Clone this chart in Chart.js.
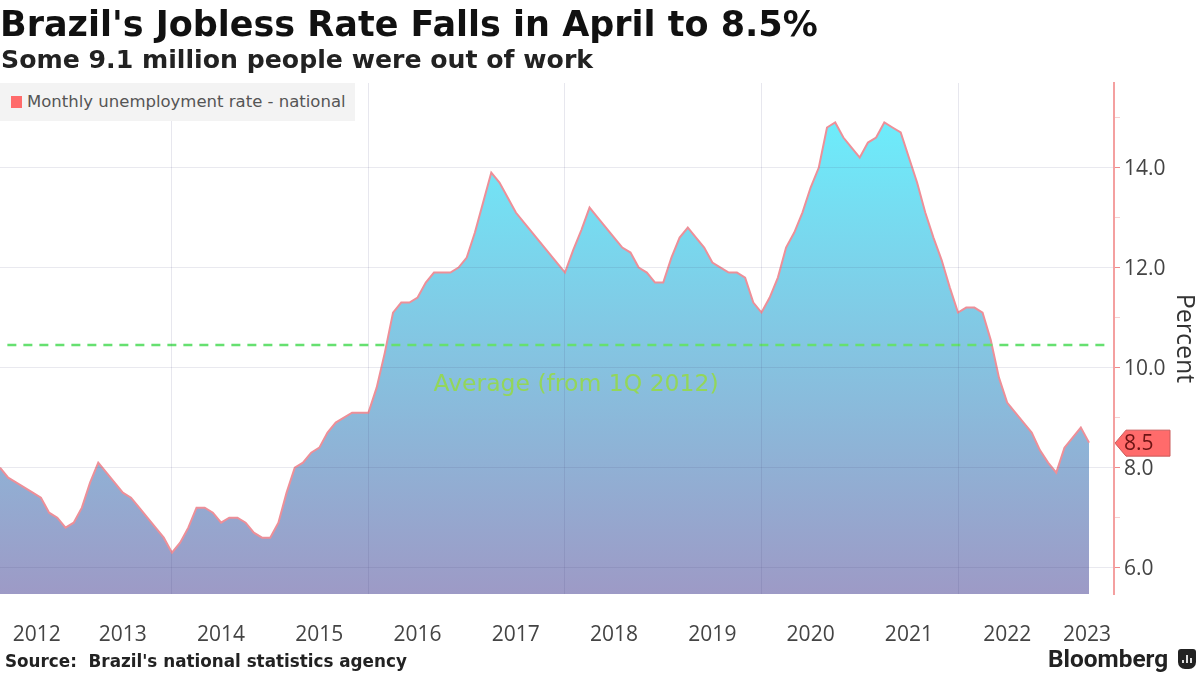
<!DOCTYPE html>
<html>
<head>
<meta charset="utf-8">
<script src="https://cdn.jsdelivr.net/npm/chart.js@4"></script>
<style>
  html, body { margin: 0; padding: 0; background: #fff; }
  #wrap { position: relative; width: 1200px; height: 674px; overflow: hidden; }
  #wrap div { position: absolute; white-space: nowrap; }
  canvas { position: absolute; left: 0; top: 0; }
  #title { left: 0; top: 4px; font: bold 35px "DejaVu Sans"; color: #111; }
  #subtitle { left: 1px; top: 45px; font: bold 25.2px "DejaVu Sans"; color: #222; }
  #legendBox { left: 0; top: 83px; width: 355px; height: 38px; background: #f3f3f3; }
  #legendSwatch { left: 11px; top: 96px; width: 11px; height: 12px; background: #ff6b6b; }
  #legendText { left: 27px; top: 92px; font: 16.5px "DejaVu Sans"; color: #555; }
  #source { left: 5px; top: 651px; font: bold 16.8px "DejaVu Sans"; color: #222; }
  #brand { left: 1048px; top: 644px; font: bold 24.4px Roboto; color: #222; }
  #logo { left: 1178px; top: 649px; width: 18px; height: 20px; background: #222; border-radius: 3px 3px 7px 7px; }
  #logo div { background: #ddd; width: 2px; bottom: 6px; }
</style>
</head>
<body>
<div id="wrap">
  <canvas id="joblessChart" width="1200" height="674"></canvas>
  <div id="title">Brazil's Jobless Rate Falls in April to 8.5%</div>
  <div id="subtitle">Some 9.1 million people were out of work</div>
  <div id="legendBox"></div>
  <div id="legendSwatch"></div>
  <div id="legendText">Monthly unemployment rate - national</div>
  <div id="source">Source:&nbsp; Brazil's national statistics agency</div>
  <div id="brand">Bloomberg</div>
  <div id="logo">
    <div style="left:4px;height:3px"></div>
    <div style="left:8px;height:8px"></div>
    <div style="left:12px;height:5px"></div>
  </div>
</div>
<script>
// monthly rate, Mar 2012 to Apr 2023
const monthlyRate = [
  8.0, 7.8, 7.7, 7.6, 7.5, 7.4, 7.1, 7.0, 6.8, 6.9,
  7.2, 7.7, 8.1, 7.9, 7.7, 7.5, 7.4, 7.2, 7.0, 6.8,
  6.6, 6.3, 6.5, 6.8, 7.2, 7.2, 7.1, 6.9, 7.0, 7.0,
  6.9, 6.7, 6.6, 6.6, 6.9, 7.5, 8.0, 8.1, 8.3, 8.4,
  8.7, 8.9, 9.0, 9.1, 9.1, 9.1, 9.6, 10.3, 11.1, 11.3,
  11.3, 11.4, 11.7, 11.9, 11.9, 11.9, 12.0, 12.2, 12.7, 13.3,
  13.9, 13.7, 13.4, 13.1, 12.9, 12.7, 12.5, 12.3, 12.1, 11.9,
  12.35, 12.75, 13.2, 13.0, 12.8, 12.6, 12.4, 12.3, 12.0, 11.9,
  11.7, 11.7, 12.2, 12.6, 12.8, 12.6, 12.4, 12.1, 12.0, 11.9,
  11.9, 11.8, 11.3, 11.1, 11.4, 11.8, 12.4, 12.7, 13.1, 13.6,
  14.0, 14.8, 14.9, 14.6, 14.4, 14.2, 14.5, 14.6, 14.9, 14.8,
  14.7, 14.2, 13.7, 13.1, 12.6, 12.15, 11.6, 11.1, 11.2, 11.2,
  11.1, 10.55, 9.8, 9.3, 9.1, 8.9, 8.7, 8.35, 8.1, 7.9,
  8.4, 8.6, 8.8, 8.5
];
const averageRate = 10.45;
const averageSpan = [0.9, 135.3];
const averageLabel = 'Average (from 1Q 2012)';
const lastLabel = '8.5';

const yearLabels = ['2012', '2013', '2014', '2015', '2016', '2017', '2018', '2019', '2020', '2021', '2022', '2023'];
const yearLabelSlots = [4.5, 15, 27, 39, 51, 63, 75, 87, 99, 111, 123, 132.75];
const yearGridSlots = [21, 45, 69, 93, 117];
const rateTicks = [6, 7, 8, 9, 10, 11, 12, 13, 14, 15];

const X_MAX = 136.05;

// small tag and the green caption, placed through the chart's scales
const markers = {
  id: 'markers',
  afterDatasetsDraw(chart) {
    const ctx = chart.ctx, y = chart.scales.y, x = chart.scales.x;
    ctx.save();
    ctx.fillStyle = '#93d65a';
    ctx.font = '23.5px "DejaVu Sans"';
    ctx.textAlign = 'center';
    ctx.textBaseline = 'middle';
    ctx.fillText(averageLabel, x.getPixelForValue(70.35), y.getPixelForValue(9.65));

    const last = monthlyRate[monthlyRate.length - 1];
    const py = y.getPixelForValue(last) + 0.5;
    const left = chart.chartArea.right;
    ctx.beginPath();
    ctx.moveTo(left + 1, py);
    ctx.lineTo(left + 12, py - 13);
    ctx.lineTo(left + 56, py - 13);
    ctx.lineTo(left + 56, py + 13);
    ctx.lineTo(left + 12, py + 13);
    ctx.closePath();
    ctx.fillStyle = '#ff6b6b';
    ctx.strokeStyle = '#c95a5a';
    ctx.lineWidth = 1;
    ctx.fill();
    ctx.stroke();
    ctx.fillStyle = '#6d1414';
    ctx.font = '21px "Open Sans"';
    ctx.textAlign = 'left';
    ctx.fillText(lastLabel, left + 10, py + 1);
    ctx.restore();
  }
};

new Chart(document.getElementById('joblessChart'), {
  type: 'line',
  plugins: [markers],
  data: {
    datasets: [{
      label: 'Average',
      data: averageSpan.map(v => ({ x: v, y: averageRate })),
      borderColor: '#66e070',
      borderWidth: 2.5,
      borderDash: [9, 7],
      pointRadius: 0,
      fill: false,
      order: 0
    }, {
      label: 'Monthly unemployment rate - national',
      data: monthlyRate.map((v, i) => ({ x: i, y: v })),
      borderColor: '#ee8f98',
      borderWidth: 2,
      pointRadius: 0,
      tension: 0,
      fill: 'start',
      order: 1,
      backgroundColor(context) {
        const area = context.chart.chartArea;
        if (!area) return '#8cc4e0';
        const g = context.chart.ctx.createLinearGradient(0, 122, 0, area.bottom);
        g.addColorStop(0, '#6decfb');
        g.addColorStop(1, '#9d9ac6');
        return g;
      }
    }]
  },
  options: {
    responsive: false,
    animation: false,
    events: [],
    layout: { padding: { top: 83, left: 0, right: 0, bottom: 0 } },
    plugins: { legend: { display: false }, title: { display: false }, tooltip: { enabled: false } },
    scales: {
      x: {
        type: 'linear',
        min: 0,
        max: X_MAX,
        border: { display: false },
        grid: { display: false },
        afterBuildTicks(axis) { axis.ticks = yearLabelSlots.map(v => ({ value: v })); },
        afterFit(axis) {
          axis.height = 80;
          axis.paddingLeft = 0;
          axis.paddingRight = 0;
        },
        ticks: {
          autoSkip: false,
          maxRotation: 0,
          padding: 20,
          color: '#444',
          font: { family: 'Open Sans', size: 21 },
          callback(value) { return yearLabels[yearLabelSlots.indexOf(value)]; }
        }
      },
      yearGrid: {
        type: 'linear',
        position: 'bottom',
        min: 0,
        max: X_MAX,
        border: { display: false },
        grid: { color: 'rgba(70,70,120,0.13)', lineWidth: 1, drawTicks: false, z: 1 },
        afterBuildTicks(axis) { axis.ticks = yearGridSlots.map(v => ({ value: v })); },
        afterFit(axis) {
          axis.height = 0;
          axis.paddingLeft = 0;
          axis.paddingRight = 0;
        },
        ticks: { display: false }
      },
      y: {
        position: 'right',
        min: 5.474,
        max: 15.69,
        border: { display: true, color: '#f4a0a0', width: 2, z: 1 },
        grid: {
          z: 1,
          drawTicks: true,
          tickLength: 6,
          color(c) { return c.tick && c.tick.value % 2 === 0 ? 'rgba(70,70,120,0.12)' : 'transparent'; },
          tickColor(c) { return c.tick && c.tick.value % 2 === 0 ? '#f08a8a' : '#f8d0d0'; }
        },
        afterBuildTicks(axis) { axis.ticks = rateTicks.map(v => ({ value: v })); },
        afterFit(axis) { axis.width = 86; },
        title: {
          display: true,
          text: 'Percent',
          color: '#333',
          padding: 1,
          font: { family: 'Open Sans', size: 25 }
        },
        ticks: {
          padding: 4,
          labelOffset: 1.5,
          color: '#444',
          font: { family: 'Open Sans', size: 21 },
          callback(value) { return value % 2 === 0 ? value.toFixed(1) : ''; }
        }
      }
    }
  }
});
</script>
</body>
</html>
